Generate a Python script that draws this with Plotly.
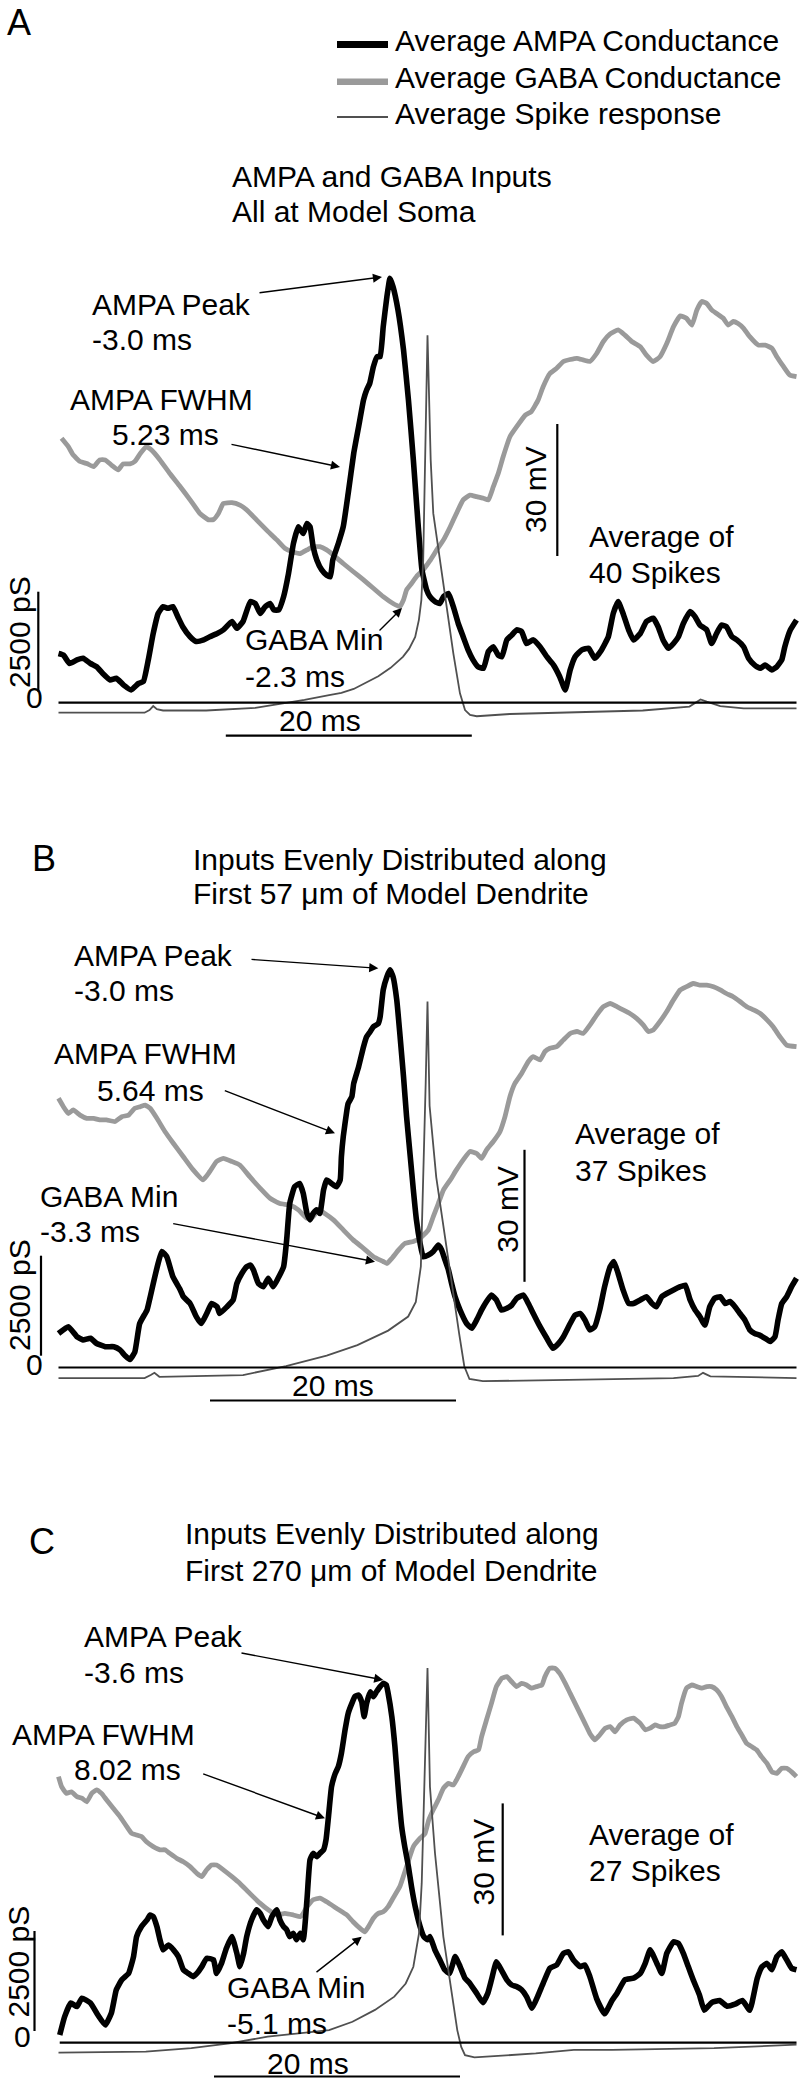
import plotly.graph_objects as go

# ------------------------------------------------------------------
# DATA  (time relative to spike peak in ms, value)
# conductances in pS, spike response in mV
# ------------------------------------------------------------------
ampa_a = [(-30.0,1230),(-29.6,1190),(-29.1,980),(-28.5,1070),(-28.0,1110),(-27.4,980),(-26.9,900),(-26.4,730),(-25.8,570),(-25.3,610),(-24.7,440),(-24.1,320),(-23.5,480),(-23.1,530),(-22.7,1070),(-22.3,1730),(-21.9,2230),(-21.5,2400),(-21.1,2360),(-20.7,2400),(-20.3,2150),(-19.9,1900),(-19.3,1650),(-18.8,1530),(-18.2,1570),(-17.7,1650),(-17.1,1730),(-16.6,1820),(-15.9,2030),(-15.5,1860),(-15.0,2030),(-14.4,2530),(-14.0,2480),(-13.6,2230),(-13.2,2400),(-12.8,2480),(-12.5,2320),(-12.1,2320),(-11.7,2650),(-11.3,3230),(-10.9,3980),(-10.5,4400),(-10.1,4230),(-9.8,4480),(-9.55,4400),(-9.3,3900),(-9.0,3570),(-8.6,3320),(-8.2,3190),(-7.9,3150),(-7.7,3570),(-7.25,3980),(-6.85,4400),(-6.45,5230),(-6.0,6230),(-5.6,6900),(-5.2,7570),(-4.95,7820),(-4.7,7980),(-4.4,8400),(-4.1,8650),(-3.85,8650),(-3.6,9400),(-3.3,10150),(-3.05,10610),(-2.8,10400),(-2.4,9820),(-1.95,8820),(-1.55,7570),(-1.15,6070),(-0.75,4400),(-0.45,3320),(-0.07,2820),(0.2,2650),(0.6,2530),(1.0,2480),(1.3,2650),(1.7,2730),(2.1,2400),(2.5,1980),(2.9,1650),(3.3,1320),(3.7,1070),(4.1,900),(4.55,860),(4.95,1280),(5.35,1400),(5.75,1190),(6.05,1150),(6.45,1570),(6.85,1690),(7.25,1820),(7.65,1780),(8.05,1480),(8.6,1570),(9.15,1400),(9.7,1150),(10.25,940),(10.75,650),(11.2,320),(11.6,820),(12.0,1150),(12.55,1320),(13.1,1360),(13.6,1110),(14.15,1320),(14.7,1650),(15.1,2230),(15.5,2530),(15.9,2230),(16.35,1820),(16.75,1570),(17.3,1730),(17.8,2030),(18.35,2110),(18.75,1900),(19.15,1570),(19.6,1360),(20.0,1480),(20.4,1650),(20.8,1980),(21.35,2280),(21.75,2150),(22.15,1940),(22.7,1820),(23.1,1480),(23.5,1730),(23.9,1940),(24.3,1900),(24.75,1650),(25.15,1570),(25.7,1400),(26.1,1110),(26.6,940),(27.05,860),(27.45,940),(28.0,820),(28.4,900),(28.8,1070),(29.05,1400),(29.5,1820),(30.0,2070)]

gaba_a = [(-29.75,6610),(-29.2,6400),(-28.8,6190),(-28.25,6030),(-27.7,5980),(-27.15,5900),(-26.65,6070),(-26.2,6070),(-25.7,5940),(-25.15,5820),(-24.75,5970),(-24.2,5970),(-23.8,6030),(-23.35,6230),(-22.85,6400),(-22.45,6320),(-21.75,6070),(-20.95,5730),(-20.1,5400),(-19.3,5070),(-18.5,4730),(-17.8,4570),(-17.4,4580),(-17.0,4730),(-16.6,4980),(-15.9,5000),(-15.25,4940),(-14.7,4820),(-13.9,4570),(-13.1,4320),(-12.25,4070),(-11.6,3860),(-11.05,3780),(-10.35,3730),(-9.8,3820),(-9.3,3900),(-8.75,3900),(-8.2,3820),(-7.65,3690),(-6.85,3480),(-6.05,3280),(-5.2,3070),(-4.4,2860),(-3.6,2650),(-2.8,2480),(-2.25,2400),(-1.95,2570),(-1.7,2820),(-1.3,2980),(-0.9,3150),(-0.35,3320),(0.2,3550),(0.75,3820),(1.3,4070),(1.85,4400),(2.35,4730),(2.9,5070),(3.45,5190),(4.0,5150),(4.55,5110),(4.95,5070),(5.35,5400),(5.75,5730),(6.15,6150),(6.7,6650),(7.25,6900),(7.95,7190),(8.45,7280),(9.0,7570),(9.4,7900),(9.95,8230),(10.5,8360),(11.05,8530),(11.6,8580),(12.15,8610),(12.65,8570),(13.2,8530),(13.75,8730),(14.3,9030),(14.85,9220),(15.5,9320),(16.05,9190),(16.6,9030),(17.3,8900),(17.8,8690),(18.35,8530),(18.9,8650),(19.45,8980),(20.0,9400),(20.55,9670),(21.05,9610),(21.5,9440),(21.9,9820),(22.3,10030),(22.7,9980),(23.1,9820),(23.5,9730),(24.05,9610),(24.45,9440),(24.85,9530),(25.25,9480),(25.7,9360),(26.2,9150),(26.9,8940),(27.45,8940),(28.0,8860),(28.4,8650),(28.95,8400),(29.45,8190),(30.0,8150)]

spike_a = [(-30.0,-65.0),(-23.0,-65.0),(-22.6,-64.4),(-22.3,-63.5),(-22.0,-64.2),(-21.5,-64.5),(-18.0,-64.5),(-14.0,-63.9),(-12.0,-63.0),(-10.0,-62.1),(-8.0,-61.0),(-7.0,-60.5),(-6.0,-59.6),(-5.0,-58.2),(-4.0,-56.7),(-3.0,-54.8),(-2.0,-52.3),(-1.5,-50.5),(-1.0,-47.8),(-0.7,-43.9),(-0.5,-39.4),(-0.35,-30.3),(-0.2,-12.1),(-0.1,6.1),(0.0,20.8),(0.12,7.6),(0.26,-7.6),(0.47,-19.7),(1.02,-30.3),(1.56,-41.7),(2.1,-51.5),(2.64,-60.6),(3.05,-64.4),(3.46,-65.5),(4.0,-65.8),(6.7,-65.3),(12.1,-64.9),(17.5,-64.5),(21.3,-63.6),(22.2,-62.0),(22.7,-62.5),(23.8,-63.5),(25.7,-64.0),(30.0,-64.0)]

ampa_b = [(-30.0,850),(-29.2,1020),(-28.5,770),(-28.0,690),(-27.4,730),(-26.9,600),(-26.2,520),(-25.5,520),(-25.0,440),(-24.6,300),(-24.2,200),(-23.8,380),(-23.4,1100),(-22.8,1440),(-22.6,1690),(-21.6,2900),(-21.2,2770),(-20.7,2270),(-20.1,1940),(-19.85,1770),(-19.3,1600),(-18.8,1270),(-18.4,1100),(-17.95,1350),(-17.55,1600),(-17.1,1520),(-16.9,1350),(-16.3,1520),(-15.8,1690),(-15.5,2100),(-15.1,2350),(-14.7,2520),(-14.4,2560),(-14.15,2440),(-13.75,2100),(-13.35,2020),(-12.95,2230),(-12.55,2020),(-12.15,2230),(-11.7,2520),(-11.45,3190),(-11.2,4100),(-10.8,4520),(-10.4,4600),(-10.1,4350),(-9.8,3850),(-9.55,3690),(-9.3,3850),(-9.0,3940),(-8.75,3850),(-8.45,4440),(-8.2,4690),(-7.8,4600),(-7.4,4520),(-7.1,4690),(-7.0,5270),(-6.85,5770),(-6.55,6440),(-6.45,6600),(-6.15,6770),(-6.0,7100),(-5.6,7520),(-5.2,8020),(-4.95,8270),(-4.65,8400),(-4.4,8520),(-4.0,8600),(-3.85,8770),(-3.6,9440),(-3.3,9770),(-3.05,9940),(-2.8,9770),(-2.5,9190),(-2.25,8350),(-1.95,7270),(-1.7,6270),(-1.4,5270),(-1.15,4440),(-0.9,3690),(-0.6,3100),(-0.35,2770),(0.07,2810),(0.47,2900),(0.88,3060),(1.15,2940),(1.42,2690),(1.7,2440),(1.96,2100),(2.24,1770),(2.64,1440),(3.18,1100),(3.6,980),(4.0,1190),(4.4,1440),(4.8,1650),(5.2,1810),(5.6,1690),(6.0,1440),(6.45,1480),(6.85,1560),(7.25,1730),(7.8,1810),(8.2,1600),(8.6,1350),(9.15,1020),(9.7,730),(10.2,480),(10.65,600),(11.05,770),(11.6,1100),(12.0,1310),(12.4,1350),(12.8,1190),(13.2,940),(13.6,1020),(14.0,1440),(14.4,2020),(14.85,2520),(15.15,2650),(15.5,2350),(15.9,1940),(16.35,1600),(16.75,1600),(17.3,1690),(17.8,1770),(18.25,1600),(18.6,1520),(19.05,1770),(19.45,1850),(20.0,1940),(20.55,2020),(20.95,2060),(21.35,1690),(21.75,1440),(22.15,1270),(22.55,1060),(22.95,1520),(23.35,1730),(23.8,1770),(24.2,1600),(24.6,1650),(25.0,1520),(25.4,1350),(25.8,1190),(26.2,940),(26.6,850),(27.0,810),(27.45,730),(27.85,650),(28.25,770),(28.5,1190),(28.8,1600),(29.2,1770),(29.6,2020),(30.0,2230)]

gaba_b = [(-30.0,6730),(-29.6,6520),(-29.2,6350),(-28.8,6440),(-28.25,6310),(-27.7,6230),(-27.15,6230),(-26.65,6190),(-26.1,6190),(-25.4,6150),(-24.85,6270),(-24.3,6310),(-23.8,6480),(-23.35,6520),(-22.95,6560),(-22.55,6480),(-22.0,6230),(-21.35,5900),(-20.65,5600),(-19.85,5270),(-19.05,4940),(-18.25,4690),(-17.7,4900),(-17.15,5150),(-16.6,5230),(-15.9,5150),(-15.25,5060),(-14.45,4770),(-13.6,4480),(-12.8,4230),(-12.0,4100),(-11.2,4060),(-10.5,3940),(-9.8,3730),(-9.3,3770),(-8.85,3940),(-8.35,3850),(-7.65,3690),(-6.85,3440),(-6.05,3190),(-5.2,2980),(-4.4,2770),(-3.6,2650),(-3.3,2600),(-2.9,2730),(-2.35,2940),(-1.85,3100),(-1.15,3150),(-0.6,3230),(0.07,3440),(0.47,3770),(0.88,4100),(1.3,4440),(1.85,4690),(2.35,4940),(2.9,5190),(3.45,5400),(4.0,5350),(4.4,5230),(4.8,5440),(5.35,5650),(5.9,5900),(6.3,6270),(6.7,6770),(7.1,7100),(7.65,7350),(8.2,7650),(8.6,7770),(9.15,7690),(9.55,7900),(9.95,7980),(10.5,8020),(11.05,8190),(11.6,8350),(12.15,8400),(12.65,8350),(13.2,8560),(13.75,8810),(14.3,9020),(14.85,9100),(15.4,9020),(15.9,8940),(16.45,8850),(17.0,8730),(17.55,8560),(17.95,8400),(18.35,8440),(18.9,8650),(19.45,8900),(20.0,9190),(20.55,9440),(21.05,9520),(21.6,9600),(22.15,9560),(22.7,9560),(23.25,9520),(23.8,9440),(24.3,9350),(24.85,9270),(25.4,9150),(25.95,9020),(26.5,8940),(27.05,8850),(27.6,8690),(28.1,8520),(28.65,8270),(29.2,8060),(30.0,8020)]

spike_b = [(-30.0,-64.8),(-23.0,-64.8),(-22.5,-64.1),(-22.2,-63.6),(-21.8,-64.5),(-15.0,-64.1),(-11.5,-62.1),(-8.2,-59.7),(-5.7,-57.3),(-3.2,-54.0),(-1.57,-50.8),(-0.95,-47.5),(-0.54,-39.4),(-0.33,-19.1),(-0.15,2.0),(0.0,20.8),(0.17,-2.9),(0.71,-19.1),(1.54,-35.4),(2.16,-47.5),(2.58,-54.8),(2.99,-62.1),(3.41,-65.0),(4.5,-65.5),(10.0,-65.2),(20.0,-64.8),(22.0,-64.3),(22.4,-63.6),(23.0,-64.4),(30.0,-64.8)]

ampa_c = [(-29.9,190),(-29.5,650),(-29.0,990),(-28.5,900),(-28.1,1110),(-27.4,990),(-26.8,690),(-26.2,440),(-25.7,740),(-25.3,1320),(-24.85,1570),(-24.3,1730),(-23.9,2150),(-23.65,2650),(-23.25,2900),(-22.8,3070),(-22.55,3190),(-22.3,3150),(-22.0,2900),(-21.75,2570),(-21.5,2320),(-21.05,2440),(-20.65,2320),(-20.25,2150),(-19.85,1820),(-19.45,1730),(-19.05,1650),(-18.75,1730),(-18.35,1900),(-17.95,2110),(-17.4,2070),(-17.15,1730),(-16.75,1980),(-16.35,2360),(-15.9,2650),(-15.5,2230),(-15.25,1900),(-14.95,2230),(-14.7,2650),(-14.3,3070),(-13.9,3320),(-13.6,3230),(-13.35,3070),(-12.95,2900),(-12.65,3150),(-12.25,3320),(-12.0,3070),(-11.7,2900),(-11.45,2820),(-11.2,2650),(-10.9,2730),(-10.65,2570),(-10.35,2730),(-10.1,2570),(-9.8,3570),(-9.55,4570),(-9.3,4730),(-9.0,4650),(-8.75,4730),(-8.45,4820),(-8.25,5070),(-8.05,5650),(-7.8,6400),(-7.5,6730),(-7.25,6900),(-7.0,7230),(-6.7,7820),(-6.45,8230),(-6.15,8480),(-5.9,8650),(-5.6,8690),(-5.35,8520),(-5.15,8150),(-4.95,8480),(-4.65,8770),(-4.4,8650),(-4.15,8770),(-3.85,8900),(-3.6,8980),(-3.35,8940),(-3.2,8730),(-2.9,8150),(-2.65,7400),(-2.35,6230),(-2.1,5400),(-1.85,4900),(-1.55,4400),(-1.3,3900),(-1.0,3400),(-0.6,2900),(-0.3,2650),(0.0,2570),(0.2,2650),(0.6,2320),(1.0,2070),(1.4,1820),(1.8,1730),(2.25,2150),(2.65,1900),(3.05,1610),(3.45,1480),(4.0,1230),(4.5,1000),(4.9,1230),(5.2,1570),(5.6,2020),(6.0,1820),(6.45,1570),(6.85,1440),(7.25,1400),(7.65,1320),(8.05,1150),(8.5,860),(8.95,1150),(9.4,1480),(9.95,1860),(10.5,1940),(11.05,2230),(11.45,2270),(11.85,2070),(12.4,1900),(12.8,1940),(13.2,1650),(13.75,1100),(14.4,720),(15.0,1050),(15.4,1230),(16.05,1570),(16.75,1610),(17.3,1730),(17.7,1980),(18.1,2320),(18.65,1980),(19.05,1730),(19.45,2230),(20.0,2520),(20.4,2480),(20.8,2230),(21.2,1900),(21.6,1570),(22.1,1200),(22.5,810),(23.1,1000),(23.75,1050),(24.35,910),(25.0,960),(25.6,1050),(26.2,810),(26.8,1600),(27.2,1900),(27.6,1980),(28.0,1820),(28.4,2150),(28.8,2270),(29.2,2070),(29.6,1860),(30.0,1820)]

gaba_c = [(-30.0,6650),(-29.75,6400),(-29.35,6230),(-28.95,6270),(-28.5,6150),(-28.1,6110),(-27.7,6020),(-27.3,6230),(-26.9,6320),(-26.5,6230),(-26.1,6070),(-25.55,5860),(-25.0,5650),(-24.45,5400),(-24.05,5230),(-23.65,5190),(-23.25,5150),(-22.85,5020),(-22.3,4900),(-21.75,4820),(-21.35,4820),(-20.95,4730),(-20.4,4610),(-19.85,4520),(-19.3,4400),(-18.75,4230),(-18.35,4150),(-17.95,4320),(-17.55,4440),(-17.15,4440),(-16.6,4320),(-15.9,4150),(-15.25,3980),(-14.45,3730),(-13.6,3480),(-12.95,3320),(-12.25,3190),(-11.6,3230),(-10.9,3190),(-10.35,3150),(-10.1,3230),(-9.8,3400),(-9.3,3570),(-8.75,3610),(-8.2,3520),(-7.4,3360),(-6.55,3190),(-6.05,3020),(-5.5,2860),(-5.1,2770),(-4.8,2900),(-4.4,3110),(-4.0,3230),(-3.6,3270),(-3.2,3400),(-2.8,3610),(-2.25,3900),(-1.7,4400),(-1.15,4900),(-0.6,5110),(-0.2,5230),(0.1,5565),(0.47,5820),(0.88,6070),(1.3,6360),(1.7,6480),(2.1,6440),(2.5,6650),(2.9,6900),(3.3,7150),(3.75,7270),(4.15,7320),(4.4,7650),(4.8,8070),(5.2,8480),(5.6,8900),(6.05,9110),(6.45,9150),(6.85,9020),(7.25,8900),(7.65,8980),(8.05,8940),(8.45,8860),(8.85,8900),(9.3,8940),(9.55,9150),(9.95,9360),(10.35,9360),(10.75,9230),(11.2,8980),(11.6,8730),(12.0,8480),(12.4,8230),(12.8,7980),(13.2,7730),(13.6,7570),(14.0,7690),(14.45,7860),(14.85,7900),(15.25,7770),(15.65,7940),(16.2,8070),(16.75,8110),(17.3,7980),(17.7,7820),(18.1,7860),(18.5,7940),(18.9,7900),(19.3,7900),(19.7,7940),(20.1,7980),(20.4,8150),(20.65,8480),(21.05,8860),(21.5,8940),(21.9,8900),(22.3,8860),(22.7,8900),(23.1,8900),(23.5,8820),(23.9,8650),(24.3,8400),(24.75,8150),(25.15,7900),(25.55,7690),(25.95,7480),(26.35,7400),(26.75,7320),(27.15,7150),(27.6,6980),(28.0,6770),(28.4,6730),(28.8,6860),(29.2,6860),(29.6,6770),(30.0,6650)]

spike_c = [(-30.0,-64.9),(-22.9,-64.7),(-19.2,-63.9),(-16.1,-62.8),(-13.0,-61.3),(-9.86,-60.4),(-8.0,-59.8),(-6.1,-57.9),(-4.27,-55.2),(-2.7,-52.2),(-1.77,-49.2),(-1.15,-45.4),(-0.69,-37.8),(-0.47,-26.4),(-0.2,-1.4),(0.0,22.5),(0.2,-4.5),(0.61,-19.6),(1.02,-31.0),(1.29,-38.6),(1.69,-46.1),(1.97,-51.8),(2.42,-59.8),(2.74,-63.6),(3.05,-65.5),(3.82,-66.0),(5.69,-65.7),(8.8,-65.1),(11.9,-64.3),(15.0,-64.3),(23.3,-63.9),(30.0,-63.1)]

legend_names = ["Average AMPA Conductance", "Average GABA Conductance", "Average Spike response"]
panel_letters = ["A", "B", "C"]
title_lines = [["AMPA and GABA Inputs", "All at Model Soma"],
               ["Inputs Evenly Distributed along", "First 57 \u03bcm of Model Dendrite"],
               ["Inputs Evenly Distributed along", "First 270 \u03bcm of Model Dendrite"]]
spike_counts = [40, 37, 27]
peak_ms = ["-3.0", "-3.0", "-3.6"]
fwhm_ms = ["5.23", "5.64", "8.02"]
gaba_min_ms = ["-2.3", "-3.3", "-5.1"]
scale_pS, scale_ms, scale_mV = 2500, 20, 30

# ------------------------------------------------------------------
# STYLE / GEOMETRY (pixels in the 800 x 2079 page)
# ------------------------------------------------------------------
W, H = 800, 2079
FONT = "Liberation Sans, Arial, Helvetica, sans-serif"
FS = 30
AMPA_COL, GABA_COL, SPIKE_COL = "#000000", "#9a9a9a", "#505050"
X0, PX_PER_MS = 427.5, 12.3
PS_PER_PX = 25.0
PX_PER_MV = 4.4
V_REST = -65.0

geo = [
    dict(zero=702.7, base=712.7, top=200, bot=775,
         letter=(19, 22), title=(229.6, 176.5, 211.0),
         peak=(90, 304, 339), peak_arrow=(258, 293, 382, 277),
         fwhm=(68.3, 400, 110, 435), fwhm_arrow=(230, 444, 340, 467),
         gmin=(242.7, 640, 676.7), gmin_arrow=(378, 632, 402, 608),
         avg=(586.7, 537, 572),
         psbar=(38.3, 691.7), pstext=(19, 632), zerotext=(34.4, 697),
         msbar=(225.8, 735.7), mstext=(319.6, 720),
         mvbar=(557.3, 556), mvtext=(535, 490)),
    dict(zero=1367.5, base=1379.0, top=830, bot=1440,
         letter=(44, 858), title=(191.3, 859, 893),
         peak=(71.7, 955, 990), peak_arrow=(250, 959.3, 378.3, 968.3),
         fwhm=(51.7, 1053, 95, 1090), fwhm_arrow=(223.3, 1090, 335, 1133.3),
         gmin=(38, 1196.7, 1231.7), gmin_arrow=(171.7, 1223.3, 375, 1261.7),
         avg=(573.3, 1133, 1170),
         psbar=(41, 1355.7), pstext=(19, 1295), zerotext=(34.5, 1364),
         msbar=(210, 1400.5), mstext=(332.5, 1385),
         mvbar=(524.5, 1281.8), mvtext=(506.7, 1209)),
    dict(zero=2042.6, base=2053.0, top=1480, bot=2079,
         letter=(42, 1541), title=(182.7, 1533.5, 1570),
         peak=(81.7, 1636.7, 1672.5), peak_arrow=(240, 1652.7, 383.3, 1680),
         fwhm=(10, 1734, 71.7, 1769), fwhm_arrow=(201.7, 1773.3, 325, 1818.3),
         gmin=(225, 1987, 2023), gmin_arrow=(315, 1973.3, 361.7, 1936.7),
         avg=(586.7, 1834, 1870),
         psbar=(34.5, 2031), pstext=(17.5, 1962), zerotext=(22, 2036),
         msbar=(214, 2076.5), mstext=(308, 2063),
         mvbar=(502.7, 1935.4), mvtext=(483, 1862.5)),
]


def t_of(px):
    return (px - X0) / PX_PER_MS


def ps_of(py, g):
    return (g["zero"] - py) * PS_PER_PX


def mv_of(py, g):
    return V_REST + (g["base"] - py) / PX_PER_MV


def txt(text, x, y, size=FS, xanchor="left", angle=0):
    return dict(text=text, x=x / W, y=1 - y / H, xref="paper", yref="paper",
                xanchor=xanchor, yanchor="middle", showarrow=False, textangle=angle,
                font=dict(family=FONT, size=size, color="black"))


def arrow(tx, ty, hx, hy):
    return dict(text="", x=hx / W, y=1 - hy / H, xref="paper", yref="paper",
                ax=tx - hx, ay=ty - hy, axref="pixel", ayref="pixel",
                showarrow=True, arrowhead=2, arrowsize=1.3, arrowwidth=1.4,
                arrowcolor="black", standoff=0, startstandoff=0)


fig = go.Figure()
layout = dict(width=W, height=H, autosize=False,
              margin=dict(l=0, r=0, t=0, b=0, pad=0),
              paper_bgcolor="white", plot_bgcolor="rgba(0,0,0,0)",
              showlegend=False)
shapes, annotations = [], []

panels = [(ampa_a, gaba_a, spike_a), (ampa_b, gaba_b, spike_b), (ampa_c, gaba_c, spike_c)]

for i, (ampa, gaba, spike) in enumerate(panels):
    g = geo[i]
    xa = "x" if i == 0 else f"x{i + 1}"
    yp = "y" if i == 0 else f"y{2 * i + 1}"
    ym = f"y{2 * i + 2}"
    xkey = "xaxis" if i == 0 else f"xaxis{i + 1}"
    ypkey = "yaxis" if i == 0 else f"yaxis{2 * i + 1}"
    ymkey = f"yaxis{2 * i + 2}"

    layout[xkey] = dict(domain=[0, 1], range=[t_of(0), t_of(W)], anchor=yp, visible=False)
    layout[ypkey] = dict(domain=[1 - g["bot"] / H, 1 - g["top"] / H],
                         range=[ps_of(g["bot"], g), ps_of(g["top"], g)], anchor=xa, visible=False)
    layout[ymkey] = dict(overlaying=yp, anchor=xa,
                         range=[mv_of(g["bot"], g), mv_of(g["top"], g)], visible=False)

    fig.add_trace(go.Scatter(x=[p[0] for p in gaba], y=[p[1] for p in gaba], mode="lines",
                             name=legend_names[1], xaxis=xa, yaxis=yp, hoverinfo="skip",
                             line=dict(color=GABA_COL, width=4.8, shape="spline", smoothing=0.4)))
    fig.add_trace(go.Scatter(x=[p[0] for p in ampa], y=[p[1] for p in ampa], mode="lines",
                             name=legend_names[0], xaxis=xa, yaxis=yp, hoverinfo="skip",
                             line=dict(color=AMPA_COL, width=5.6, shape="spline", smoothing=0.4)))
    fig.add_trace(go.Scatter(x=[p[0] for p in spike], y=[p[1] for p in spike], mode="lines",
                             name=legend_names[2], xaxis=xa, yaxis=ym, hoverinfo="skip",
                             line=dict(color=SPIKE_COL, width=1.8)))

    # zero-conductance baseline spanning the recorded window
    t_min, t_max = min(p[0] for p in ampa), max(p[0] for p in ampa)
    shapes.append(dict(type="line", xref=xa, yref=yp, x0=t_min, x1=t_max, y0=0, y1=0,
                       line=dict(color="black", width=2.2)))
    # 2500 pS scale bar
    bx = t_of(g["psbar"][0])
    b0 = ps_of(g["psbar"][1], g)
    shapes.append(dict(type="line", xref=xa, yref=yp, x0=bx, x1=bx, y0=b0, y1=b0 + scale_pS,
                       line=dict(color="black", width=2.2)))
    # 20 ms scale bar
    m0 = t_of(g["msbar"][0])
    my = ps_of(g["msbar"][1], g)
    shapes.append(dict(type="line", xref=xa, yref=yp, x0=m0, x1=m0 + scale_ms, y0=my, y1=my,
                       line=dict(color="black", width=2.2)))
    # 30 mV scale bar
    vx = t_of(g["mvbar"][0])
    v0 = mv_of(g["mvbar"][1], g)
    shapes.append(dict(type="line", xref=xa, yref=ym, x0=vx, x1=vx, y0=v0, y1=v0 + scale_mV,
                       line=dict(color="black", width=2.2)))

    # texts
    annotations.append(txt(panel_letters[i], g["letter"][0], g["letter"][1], size=36, xanchor="center"))
    annotations.append(txt(title_lines[i][0], g["title"][0], g["title"][1]))
    annotations.append(txt(title_lines[i][1], g["title"][0], g["title"][2]))
    annotations.append(txt("AMPA Peak", g["peak"][0], g["peak"][1]))
    annotations.append(txt(f"{peak_ms[i]} ms", g["peak"][0], g["peak"][2]))
    annotations.append(txt("AMPA FWHM", g["fwhm"][0], g["fwhm"][1]))
    annotations.append(txt(f"{fwhm_ms[i]} ms", g["fwhm"][2], g["fwhm"][3]))
    annotations.append(txt("GABA Min", g["gmin"][0], g["gmin"][1]))
    annotations.append(txt(f"{gaba_min_ms[i]} ms", g["gmin"][0], g["gmin"][2]))
    annotations.append(txt("Average of", g["avg"][0], g["avg"][1]))
    annotations.append(txt(f"{spike_counts[i]} Spikes", g["avg"][0], g["avg"][2]))
    annotations.append(txt(f"{scale_pS} pS", g["pstext"][0], g["pstext"][1], xanchor="center", angle=-90))
    annotations.append(txt("0", g["zerotext"][0], g["zerotext"][1], xanchor="center"))
    annotations.append(txt(f"{scale_ms} ms", g["mstext"][0], g["mstext"][1], xanchor="center"))
    annotations.append(txt(f"{scale_mV} mV", g["mvtext"][0], g["mvtext"][1], xanchor="center", angle=-90))
    annotations.append(arrow(*g["peak_arrow"]))
    annotations.append(arrow(*g["fwhm_arrow"]))
    annotations.append(arrow(*g["gmin_arrow"]))

# legend (drawn as sample lines + labels, top of panel A)
leg_rows = [(44.5, 41, AMPA_COL, 7), (81.7, 78, GABA_COL, 6.5), (117, 114, SPIKE_COL, 2.2)]
for (ly, ty, col, w), name in zip(leg_rows, legend_names):
    shapes.append(dict(type="line", xref="paper", yref="paper", x0=337 / W, x1=388 / W,
                       y0=1 - ly / H, y1=1 - ly / H, line=dict(color=col, width=w)))
    annotations.append(txt(name, 393, ty))

layout["shapes"] = shapes
layout["annotations"] = annotations
fig.update_layout(**layout)

fig.write_html("out.html", config={"displayModeBar": False, "staticPlot": True},
               post_script="document.body.style.margin='0';")
